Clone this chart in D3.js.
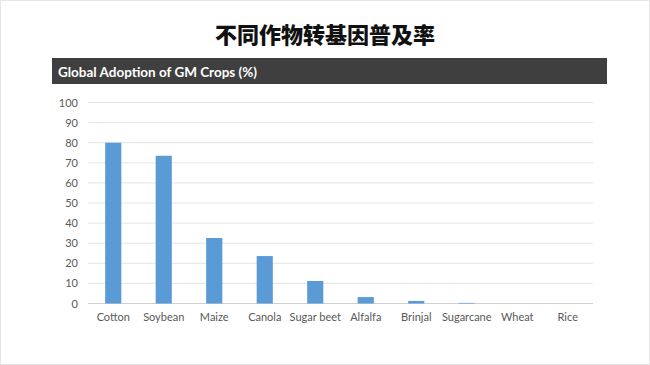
<!DOCTYPE html>
<html><head><meta charset="utf-8">
<script src="https://cdn.jsdelivr.net/npm/d3@7"></script>
<style>body{margin:0;background:#fff;}svg{display:block;}</style>
</head><body>
<script>
const title = "不同作物转基因普及率";
const subtitle = "Global Adoption of GM Crops (%)";
const categories = ["Cotton","Soybean","Maize","Canola","Sugar beet","Alfalfa","Brinjal","Sugarcane","Wheat","Rice"];
const values = [80,73.5,32.6,23.6,11.2,3.2,1.3,0.3,0,0];
const yTicks = [0,10,20,30,40,50,60,70,80,90,100];

const W=650,H=365;
const svg=d3.select("body").append("svg").attr("width",W).attr("height",H);
svg.append("rect").attr("x",0.5).attr("y",0.5).attr("width",W-1).attr("height",H-1).attr("fill","#fff").attr("stroke","#e6e6e6");
svg.append("text").attr("x",325).attr("y",43).attr("text-anchor","middle")
  .attr("font-family","'Noto Sans CJK SC'").attr("font-weight",900).attr("font-size",22).attr("fill","#111").text(title);
svg.append("rect").attr("x",52).attr("y",58).attr("width",555).attr("height",26).attr("fill","#3f3f3f");
svg.append("text").attr("x",58).attr("y",76.5).attr("font-family","Lato").attr("font-weight",700)
  .attr("font-size",14).attr("textLength",199).attr("lengthAdjust","spacingAndGlyphs")
  .attr("fill","#fff").text(subtitle);

const x=d3.scaleBand().domain(categories).range([88,593]).paddingInner(0.68).paddingOuter(0.34);
const y=d3.scaleLinear().domain([0,100]).range([303.5,102.5]);

const grid=svg.append("g");
grid.selectAll("line").data(yTicks).join("line")
  .attr("x1",88).attr("x2",593).attr("y1",d=>y(d)).attr("y2",d=>y(d))
  .attr("stroke",d=>d===0?"#d0d0d0":"#e4e4e4").attr("stroke-width",1);

const yAxis=svg.append("g").attr("transform","translate(78,0)")
  .call(d3.axisLeft(y).tickValues(yTicks).tickSize(0).tickPadding(0));
yAxis.select(".domain").remove();
yAxis.selectAll("text").attr("font-family","Lato").attr("font-size",11).attr("fill","#595959");

svg.append("g").selectAll("rect").data(values).join("rect")
  .attr("x",(d,i)=>x(categories[i])).attr("width",x.bandwidth())
  .attr("y",d=>y(d)).attr("height",d=>y(0)-y(d)).attr("fill","#5b9bd5");

const xAxis=svg.append("g").attr("transform","translate(0,303.5)")
  .call(d3.axisBottom(x).tickSize(0).tickPadding(10));
xAxis.select(".domain").remove();
xAxis.selectAll("text").attr("font-family","Lato").attr("font-size",11).attr("fill","#595959");
</script>
</body></html>
